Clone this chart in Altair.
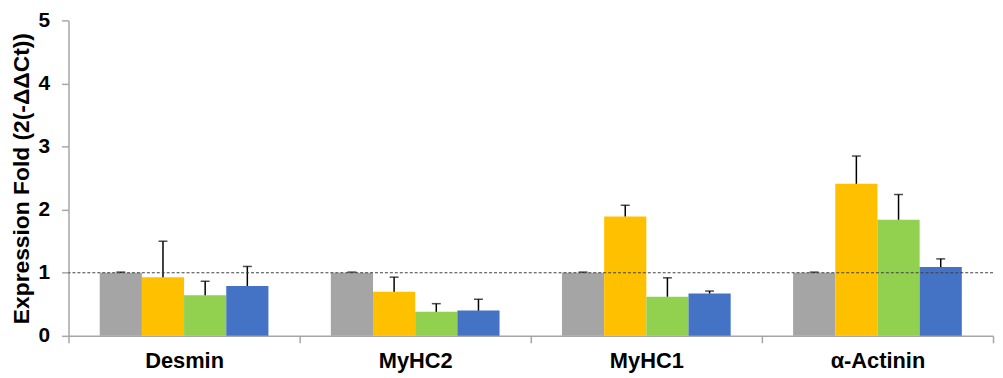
import altair as alt
import pandas as pd

genes = ["Desmin", "MyHC2", "MyHC1", "α-Actinin"]
series = ["S1", "S2", "S3", "S4"]
colors = ["#A5A5A5", "#FFC000", "#92D050", "#4472C4"]

s1_vals = [1.0, 1.0, 1.0, 1.0]
s1_errs = [0.01, 0.01, 0.01, 0.01]
s2_vals = [0.93, 0.70, 1.89, 2.41]
s2_errs = [0.57, 0.23, 0.18, 0.44]
s3_vals = [0.645, 0.38, 0.62, 1.84]
s3_errs = [0.22, 0.13, 0.30, 0.40]
s4_vals = [0.79, 0.40, 0.67, 1.09]
s4_errs = [0.31, 0.18, 0.04, 0.13]

y_ticks = [0, 1, 2, 3, 4, 5]
ref_value = 1

rows = []
for s, vals, errs in zip(series, [s1_vals, s2_vals, s3_vals, s4_vals],
                         [s1_errs, s2_errs, s3_errs, s4_errs]):
    for g, v, e in zip(genes, vals, errs):
        rows.append({"gene": g, "series": s, "value": v, "top": v + e})
df = pd.DataFrame(rows)

x = alt.X("gene:N", sort=genes, title=None,
          scale=alt.Scale(paddingInner=0, paddingOuter=0),
          axis=alt.Axis(labelAngle=0, labelFont="Liberation Sans", labelFontWeight="bold",
                        labelFontSize=22, labelColor="black", labelPadding=8,
                        domainColor="#A6A6A6", domainWidth=1.5,
                        tickColor="#A6A6A6", tickWidth=1.5, tickSize=7, tickBand="extent"))
xo = alt.XOffset("series:N", sort=series,
                 scale=alt.Scale(paddingInner=0, paddingOuter=0.74))
y = alt.Y("value:Q", title="Expression Fold (2(-ΔΔCt))",
          scale=alt.Scale(domain=[0, 5], nice=False),
          axis=alt.Axis(values=y_ticks, format="d", grid=False, labelFont="Liberation Sans",
                        labelFontWeight="bold", labelFontSize=21, labelColor="black",
                        labelPadding=12, domainColor="#A6A6A6", domainWidth=1.5,
                        tickColor="#A6A6A6", tickWidth=1.5, tickSize=7,
                        titleFont="Liberation Sans", titleFontWeight="bold",
                        titleFontSize=23, titleColor="black", titlePadding=5))

base = alt.Chart(df)
bars = base.mark_bar().encode(
    x=x, xOffset=xo, y=y,
    color=alt.Color("series:N", sort=series,
                    scale=alt.Scale(domain=series, range=colors), legend=None),
)
err = base.mark_rule(color="black", strokeWidth=1.5).encode(
    x=x, xOffset=xo, y=alt.Y("value:Q"), y2="top:Q")
caps = base.mark_tick(color="black", thickness=1.5, size=9).encode(
    x=x, xOffset=xo, y=alt.Y("top:Q"))
ref = alt.Chart(pd.DataFrame({"v": [ref_value]})).mark_rule(
    color="#404040", strokeDash=[3, 2], strokeWidth=1).encode(y=alt.Y("v:Q"))

chart = alt.layer(bars, err, caps, ref).properties(
    width=932, height=318,
    autosize=alt.AutoSizeParams(type="none"),
    padding={"left": 61, "top": 11, "right": 2, "bottom": 41},
).configure_view(stroke=None)

chart.save("out.html", embed_options={"renderer": "svg", "actions": False})
